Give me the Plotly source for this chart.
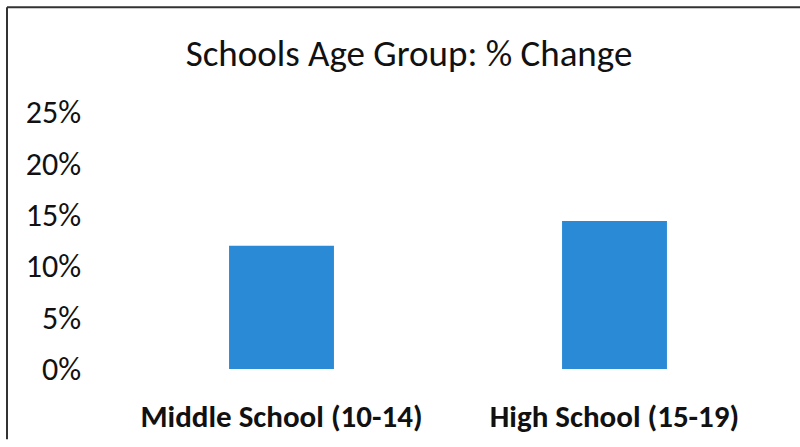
import plotly.graph_objects as go

# Percentage change by school age group
categories = ["Middle School (10-14)", "High School (15-19)"]
pct_change = [12.0, 14.4]
y_ticks = [0, 5, 10, 15, 20, 25]
y_tick_labels = ["0%", "5%", "10%", "15%", "20%", "25%"]

W, H = 800, 447
ML, MR, MT, MB = 115, 19, 112, 75
plot_w = W - ML - MR
plot_h = H - MT - MB


def px_x(x):
    return (x - ML) / plot_w


def px_y(y):
    return (H - MB - y) / plot_h


FONT = "Carlito, Lato, 'Liberation Sans', sans-serif"

fig = go.Figure(
    go.Bar(
        x=categories,
        y=pct_change,
        marker=dict(color="#2b8ad6", line=dict(width=0)),
        hoverinfo="skip",
    )
)

fig.update_layout(
    width=W,
    height=H,
    margin=dict(l=ML, r=MR, t=MT, b=MB),
    paper_bgcolor="white",
    plot_bgcolor="white",
    bargap=0.685,
    showlegend=False,
    title=dict(
        text="Schools Age Group: % Change",
        x=409 / W,
        xanchor="center",
        y=1 - 53 / H,
        yanchor="middle",
        font=dict(family=FONT, size=37, color="#111111"),
    ),
    shapes=[
        # frame: top and left edges
        dict(type="line", xref="paper", yref="paper",
             x0=px_x(7), x1=px_x(800), y0=px_y(6), y1=px_y(6),
             line=dict(color="#333333", width=2)),
        dict(type="line", xref="paper", yref="paper",
             x0=px_x(7), x1=px_x(7), y0=px_y(6), y1=px_y(443),
             line=dict(color="#333333", width=2)),
    ],
)

fig.update_yaxes(
    range=[0, 25],
    tickvals=y_ticks,
    ticktext=y_tick_labels,
    showgrid=False,
    zeroline=False,
    showline=False,
    ticks="",
    ticklabelstandoff=33,
    tickfont=dict(family=FONT, size=32, color="#111111"),
)

fig.update_xaxes(
    showgrid=False,
    zeroline=False,
    showline=False,
    ticks="",
    ticklabelstandoff=26,
    tickfont=dict(family=FONT, size=31, color="#111111", weight="bold"),
)

fig.write_html("out.html")
